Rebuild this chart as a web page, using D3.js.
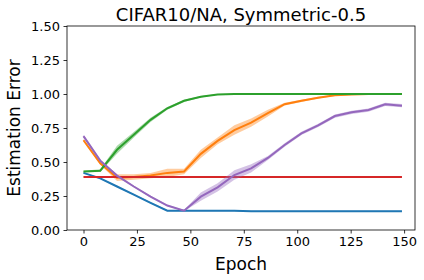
<!DOCTYPE html>
<html>
<head>
<meta charset="utf-8">
<script src="https://cdn.jsdelivr.net/npm/d3@7"></script>
<style>
  body { margin: 0; background: #fff; }
  svg { font-family: "DejaVu Sans", sans-serif; }
</style>
</head>
<body>
<svg id="chart" width="424" height="280"></svg>
<script>
// epochs where the estimation error was measured (20 checkpoints over 0..149)
var epochs = [0, 7.84, 15.68, 23.53, 31.37, 39.21, 47.05, 54.89, 62.74, 70.58,
  78.42, 86.26, 94.1, 101.95, 109.79, 117.63, 125.47, 133.32, 141.16, 149];

var blue = [0.42, 0.38, 0.32, 0.26, 0.20, 0.142, 0.142, 0.142, 0.142, 0.142,
  0.137, 0.137, 0.137, 0.137, 0.137, 0.137, 0.137, 0.137, 0.137, 0.137];
var blueStd = [0.005, 0.005, 0.005, 0.005, 0.005, 0.005, 0.005, 0.005, 0.005, 0.005,
  0.005, 0.005, 0.005, 0.005, 0.005, 0.005, 0.005, 0.005, 0.005, 0.005];

var orange = [0.66, 0.49, 0.385, 0.39, 0.40, 0.42, 0.43, 0.56, 0.655, 0.735,
  0.79, 0.86, 0.925, 0.95, 0.973, 0.99, 0.996, 1.0, 1.0, 1.0];
var orangeStd = [0.01, 0.01, 0.025, 0.02, 0.02, 0.03, 0.02, 0.03, 0.025, 0.035,
  0.03, 0.025, 0.01, 0.008, 0.006, 0.004, 0.003, 0.002, 0.002, 0.002];

var green = [0.43, 0.436, 0.59, 0.70, 0.81, 0.895, 0.95, 0.98, 0.997, 1.0,
  1.0, 1.0, 1.0, 1.0, 1.0, 1.0, 1.0, 1.0, 1.0, 1.0];
var greenStd = [0.005, 0.01, 0.03, 0.02, 0.015, 0.01, 0.008, 0.005, 0.003, 0.002,
  0.002, 0.002, 0.002, 0.002, 0.002, 0.002, 0.002, 0.002, 0.002, 0.002];

var red = [0.39, 0.39, 0.39, 0.39, 0.39, 0.39, 0.39, 0.39, 0.39, 0.39,
  0.39, 0.39, 0.39, 0.39, 0.39, 0.39, 0.39, 0.39, 0.39, 0.39];
var redStd = [0.003, 0.003, 0.003, 0.003, 0.003, 0.003, 0.003, 0.003, 0.003, 0.003,
  0.003, 0.003, 0.003, 0.003, 0.003, 0.003, 0.003, 0.003, 0.003, 0.003];

var purple = [0.69, 0.51, 0.40, 0.32, 0.245, 0.18, 0.142, 0.245, 0.314, 0.404,
  0.453, 0.53, 0.625, 0.71, 0.77, 0.838, 0.865, 0.882, 0.924, 0.914];
var purpleStd = [0.01, 0.01, 0.008, 0.006, 0.006, 0.006, 0.005, 0.03, 0.03, 0.035,
  0.03, 0.015, 0.012, 0.012, 0.012, 0.012, 0.012, 0.012, 0.012, 0.012];

var xTicks = [0, 25, 50, 75, 100, 125, 150];
var yTicks = [0, 0.25, 0.5, 0.75, 1.0, 1.25, 1.5];

var title = "CIFAR10/NA, Symmetric-0.5";

var series = [
  {vals: blue, std: blueStd, color: "#1f77b4"},
  {vals: orange, std: orangeStd, color: "#ff7f0e"},
  {vals: green, std: greenStd, color: "#2ca02c"},
  {vals: red, std: redStd, color: "#d62728"},
  {vals: purple, std: purpleStd, color: "#9467bd"}
];

var svg = d3.select("#chart");
var mLeft = 67, mRight = 415, mTop = 26, mBottom = 230;

var x = d3.scaleLinear().domain([-7.72, 155.1]).range([mLeft, mRight]);
var y = d3.scaleLinear().domain([0, 1.5]).range([mBottom, mTop]);

// bands + lines
var area = d3.area()
  .x(function(d) { return x(d.e); })
  .y0(function(d) { return y(d.v - d.s); })
  .y1(function(d) { return y(d.v + d.s); });
var line = d3.line()
  .x(function(d) { return x(d.e); })
  .y(function(d) { return y(d.v); });

var plot = svg.append("g");
series.forEach(function(s) {
  var pts = epochs.map(function(e, i) { return {e: e, v: s.vals[i], s: s.std[i]}; });
  plot.append("path").attr("d", area(pts))
    .attr("fill", s.color).attr("fill-opacity", 0.4).attr("stroke", "none");
  plot.append("path").attr("d", line(pts))
    .attr("fill", "none").attr("stroke", s.color).attr("stroke-width", 2);
});

// axes
var xAxis = svg.append("g").attr("transform", "translate(0," + mBottom + ")")
  .call(d3.axisBottom(x).tickValues(xTicks).tickSize(3.5).tickPadding(3.5).tickSizeOuter(0));
var yAxis = svg.append("g").attr("transform", "translate(" + mLeft + ",0)")
  .call(d3.axisLeft(y).tickValues(yTicks).tickFormat(d3.format(".2f")).tickSize(3.5).tickPadding(3.5).tickSizeOuter(0));
[xAxis, yAxis].forEach(function(a) {
  a.attr("font-size", 13).attr("font-family", "DejaVu Sans, sans-serif");
  a.select(".domain").remove();
  a.selectAll("text").attr("fill", "#000");
  a.selectAll("line").attr("stroke", "#000").attr("stroke-width", 0.8);
});

// frame
svg.append("rect").attr("x", mLeft).attr("y", mTop)
  .attr("width", mRight - mLeft).attr("height", mBottom - mTop)
  .attr("fill", "none").attr("stroke", "#000").attr("stroke-width", 0.8);

svg.append("text").attr("x", (mLeft + mRight) / 2).attr("y", 20.5)
  .attr("text-anchor", "middle").attr("font-size", 18).text(title);
svg.append("text").attr("x", (mLeft + mRight) / 2).attr("y", 270)
  .attr("text-anchor", "middle").attr("font-size", 17).text("Epoch");
svg.append("text").attr("transform", "translate(20," + (mTop + mBottom) / 2 + ") rotate(-90)")
  .attr("text-anchor", "middle").attr("font-size", 17).text("Estimation Error");
</script>
</body>
</html>
